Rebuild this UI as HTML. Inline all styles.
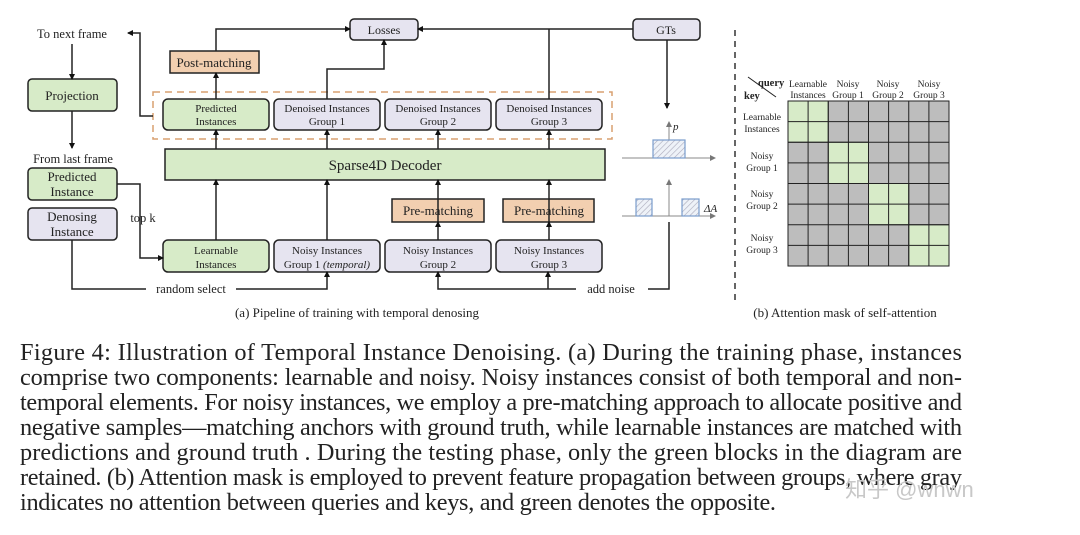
<!DOCTYPE html>
<html><head><meta charset="utf-8"><style>
html,body{margin:0;padding:0;background:#fff;}
svg{display:block;}
text{font-family:"Liberation Serif",serif;fill:#222;}
</style></head><body>
<svg width="1080" height="535" viewBox="0 0 1080 535" xmlns="http://www.w3.org/2000/svg">
<defs>
<marker id="a" markerWidth="6" markerHeight="6" refX="5" refY="3" orient="auto" markerUnits="userSpaceOnUse"><path d="M0,0 L6,3 L0,6 z" fill="#111"/></marker>
<marker id="g" markerWidth="6" markerHeight="6" refX="5" refY="3" orient="auto" markerUnits="userSpaceOnUse"><path d="M0,0 L6,3 L0,6 z" fill="#777"/></marker>
<pattern id="h" width="4" height="4" patternUnits="userSpaceOnUse" patternTransform="rotate(45)"><rect width="4" height="4" fill="#eef2f8"/><line x1="0" y1="0" x2="0" y2="4" stroke="#aab" stroke-width="1.2"/></pattern>
</defs>
<g stroke="#222" stroke-width="1.5" font-size="12">
<rect x="153" y="92" width="459" height="47" fill="none" stroke="#d9a070" stroke-dasharray="7,5"/>
<rect x="350" y="19" width="68" height="21" rx="4" fill="#e6e4f0"/>
<rect x="633" y="19" width="67" height="21" rx="4" fill="#e6e4f0"/>
<rect x="170" y="51" width="89" height="22" fill="#f2cfb0"/>
<rect x="163" y="99" width="106" height="31" rx="5" fill="#d7ebc8"/>
<rect x="274" y="99" width="106" height="31" rx="5" fill="#e6e4f0"/>
<rect x="385" y="99" width="106" height="31" rx="5" fill="#e6e4f0"/>
<rect x="496" y="99" width="106" height="31" rx="5" fill="#e6e4f0"/>
<rect x="165" y="149" width="440" height="31" fill="#d7ebc8"/>
<rect x="392" y="199" width="92" height="23" fill="#f2cfb0"/>
<rect x="503" y="199" width="91" height="23" fill="#f2cfb0"/>
<rect x="163" y="240" width="106" height="32" rx="5" fill="#d7ebc8"/>
<rect x="274" y="240" width="106" height="32" rx="5" fill="#e6e4f0"/>
<rect x="385" y="240" width="106" height="32" rx="5" fill="#e6e4f0"/>
<rect x="496" y="240" width="106" height="32" rx="5" fill="#e6e4f0"/>
<rect x="28" y="79" width="89" height="32" rx="4" fill="#d7ebc8"/>
<rect x="28" y="168" width="89" height="32" rx="4" fill="#d7ebc8"/>
<rect x="28" y="208" width="89" height="32" rx="4" fill="#e6e4f0"/>
<g fill="none" marker-end="url(#a)">
<path d="M216 240 V180"/><path d="M327 240 V180"/><path d="M438 222 V180"/><path d="M549 222 V180"/>
<path d="M438 240 V222"/><path d="M549 240 V222"/>
<path d="M216 149 V130"/><path d="M327 149 V130"/><path d="M438 149 V130"/><path d="M549 149 V130"/>
<path d="M216 99 V73"/>
<path d="M216 51 V29 H350"/>
<path d="M327 99 V69 H384 V40"/>
<path d="M633 29 H418"/>
<path d="M153 116 H140 V33 H128"/>
<path d="M72 44 V79"/><path d="M72 111 V148"/>
<path d="M117 184 H140 V258 H163"/>
<path d="M72 240 V289 H146 M236 289 H327 V272"/>
<path d="M548 289 H438 V272"/><path d="M548 289 V272"/>
<path d="M667 40 V108"/>
</g>
<path d="M549 29 V99" fill="none"/>
<path d="M576 289 H548" fill="none"/>
<path d="M648 289 H669 V222" fill="none"/>
</g>
<g stroke="#888" stroke-width="1" fill="none">
<path d="M622 158 H715" marker-end="url(#g)"/><path d="M669 158 V122" marker-end="url(#g)"/>
<path d="M622 216 H715" marker-end="url(#g)"/><path d="M669 216 V180" marker-end="url(#g)"/>
</g>
<g stroke="#7a9ccc" stroke-width="1.2" fill="url(#h)">
<rect x="653" y="140" width="32" height="18"/>
<rect x="636" y="199" width="16" height="17"/>
<rect x="682" y="199" width="17" height="17"/>
</g>
<text x="673" y="130" font-size="11" font-style="italic">p</text>
<text x="704" y="212" font-size="11" font-style="italic">ΔA</text>
<path d="M735 30 V300" stroke="#333" stroke-width="1.5" stroke-dasharray="6,5"/>
<g font-size="12" text-anchor="middle">
<text x="384" y="34">Losses</text><text x="666" y="34">GTs</text>
<text x="214" y="67" font-size="13">Post-matching</text>
<text x="216" y="112" font-size="11">Predicted</text><text x="216" y="125" font-size="11">Instances</text>
<text x="327" y="112" font-size="11">Denoised Instances</text><text x="327" y="125" font-size="11">Group 1</text>
<text x="438" y="112" font-size="11">Denoised Instances</text><text x="438" y="125" font-size="11">Group 2</text>
<text x="549" y="112" font-size="11">Denoised Instances</text><text x="549" y="125" font-size="11">Group 3</text>
<text x="385" y="170" font-size="15">Sparse4D  Decoder</text>
<text x="438" y="215" font-size="13">Pre-matching</text><text x="549" y="215" font-size="13">Pre-matching</text>
<text x="216" y="254" font-size="11">Learnable</text><text x="216" y="268" font-size="11">Instances</text>
<text x="327" y="254" font-size="11">Noisy Instances</text><text x="327" y="268" font-size="11">Group 1 <tspan font-style="italic">(temporal)</tspan></text>
<text x="438" y="254" font-size="11">Noisy Instances</text><text x="438" y="268" font-size="11">Group 2</text>
<text x="549" y="254" font-size="11">Noisy Instances</text><text x="549" y="268" font-size="11">Group 3</text>
<text x="72" y="100" font-size="13">Projection</text>
<text x="72" y="181" font-size="13">Predicted</text><text x="72" y="196" font-size="13">Instance</text>
<text x="72" y="221" font-size="13">Denosing</text><text x="72" y="236" font-size="13">Instance</text>
<text x="72" y="38" font-size="12.5">To next frame</text>
<text x="73" y="163" font-size="12.5">From last frame</text>
<text x="143" y="222" font-size="12.5">top k</text>
<text x="191" y="293" font-size="12.5">random select</text>
<text x="611" y="293" font-size="12.5">add noise</text>
<text x="357" y="317" font-size="13">(a) Pipeline of training with temporal denosing</text>
<text x="845" y="317" font-size="13">(b) Attention mask of self-attention</text>
</g>
<g stroke="#222" stroke-width="1">
<rect x="788" y="101" width="161" height="165" fill="#bdbdbd"/>
<rect x="788" y="101" width="40.25" height="41.25" fill="#d7ebc8"/>
<rect x="828.25" y="142.25" width="40.25" height="41.25" fill="#d7ebc8"/>
<rect x="868.5" y="183.5" width="40.25" height="41.25" fill="#d7ebc8"/>
<rect x="908.75" y="224.75" width="40.25" height="41.25" fill="#d7ebc8"/>
<path d="M808.1 101V266M828.25 101V266M848.4 101V266M868.5 101V266M888.6 101V266M908.75 101V266M928.9 101V266M788 121.6H949M788 142.25H949M788 162.9H949M788 183.5H949M788 204.1H949M788 224.75H949M788 245.4H949"/>
<path d="M748 77 L776 97" stroke-width="1"/>
</g>
<g font-size="9.5" text-anchor="middle" fill="#333">
<text x="808" y="87">Learnable</text><text x="808" y="98">Instances</text>
<text x="848" y="87">Noisy</text><text x="848" y="98">Group 1</text>
<text x="888" y="87">Noisy</text><text x="888" y="98">Group 2</text>
<text x="929" y="87">Noisy</text><text x="929" y="98">Group 3</text>
<text x="762" y="120">Learnable</text><text x="762" y="132">Instances</text>
<text x="762" y="159">Noisy</text><text x="762" y="171">Group 1</text>
<text x="762" y="197">Noisy</text><text x="762" y="209">Group 2</text>
<text x="762" y="241">Noisy</text><text x="762" y="253">Group 3</text>
</g>
<text x="758" y="86" font-size="10.5" font-weight="bold">query</text>
<text x="744" y="99" font-size="10.5" font-weight="bold">key</text>
<g font-size="24.3" fill="#111">
<text x="20" y="360" textLength="942" lengthAdjust="spacing">Figure 4: Illustration of Temporal Instance Denoising. (a) During the training phase, instances</text>
<text x="20" y="385" textLength="942" lengthAdjust="spacing">comprise two components: learnable and noisy. Noisy instances consist of both temporal and non-</text>
<text x="20" y="410" textLength="942" lengthAdjust="spacing">temporal elements. For noisy instances, we employ a pre-matching approach to allocate positive and</text>
<text x="20" y="435" textLength="942" lengthAdjust="spacing">negative samples—matching anchors with ground truth, while learnable instances are matched with</text>
<text x="20" y="460" textLength="942" lengthAdjust="spacing">predictions and ground truth . During the testing phase, only the green blocks in the diagram are</text>
<text x="20" y="485" textLength="942" lengthAdjust="spacing">retained. (b) Attention mask is employed to prevent feature propagation between groups, where gray</text>
<text x="20" y="510" textLength="756" lengthAdjust="spacing">indicates no attention between queries and keys, and green denotes the opposite.</text>
</g>
<text x="845" y="497" font-size="22" style="font-family:'Liberation Sans','Noto Sans CJK SC',sans-serif;fill:#c8c8c8">知乎 @wnwn</text>
</svg>
</body></html>
